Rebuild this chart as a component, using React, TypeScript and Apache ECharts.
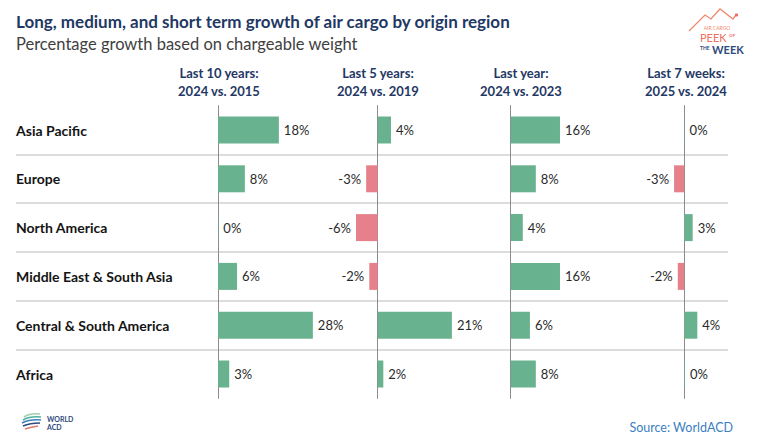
import React, { useEffect, useRef } from 'react';
import * as echarts from 'echarts';

const regions = [
  'Asia Pacific',
  'Europe',
  'North America',
  'Middle East & South Asia',
  'Central & South America',
  'Africa',
];
const headerLine1 = ['Last 10 years:', 'Last 5 years:', 'Last year:', 'Last 7 weeks:'];
const headerLine2 = ['2024 vs. 2015', '2024 vs. 2019', '2024 vs. 2023', '2025 vs. 2024'];
const growth10y = [17.9, 7.9, 0.1, 5.6, 27.9, 3.3];
const growth5y = [3.8, -3.3, -6.2, -2.4, 21.2, 1.6];
const growth1y = [15.9, 8.1, 3.9, 15.9, 6.2, 8.1];
const growth7w = [0.1, -3.3, 2.7, -2.1, 4.2, 0.2];
const mainTitle = 'Long, medium, and short term growth of air cargo by origin region';
const subTitle = 'Percentage growth based on chargeable weight';
const sourceText = 'Source: WorldACD';

const GREEN = '#69b28f';
const RED = '#e6808a';
const FONT = 'Lato';
const NAVY = '#1f3864';

const GRID_TOP = 105.6;
const GRID_H = 292.8;

const panels = [
  { data: growth10y, min: 0, max: 30, left: 218, width: 102, hx: 219 },
  { data: growth5y, min: -8, max: 22, left: 349.7, width: 105, hx: 378 },
  { data: growth1y, min: 0, max: 20, left: 510.7, width: 62, hx: 521 },
  { data: growth7w, min: -5, max: 5, left: 668.8, width: 31, hx: 686 },
];

export default function App() {
  const ref = useRef<HTMLDivElement>(null);
  useEffect(() => {
    if (!ref.current) return;
    const chart = echarts.init(ref.current, null, { renderer: 'svg' });

    const grids: any[] = [];
    const xAxes: any[] = [];
    const yAxes: any[] = [];
    const series: any[] = [];

    // background grid: category labels and row separators
    grids.push({ left: 16, width: 712, top: GRID_TOP, height: GRID_H });
    xAxes.push({ gridIndex: 0, type: 'value', min: 0, max: 1, show: false });
    yAxes.push({
      gridIndex: 0,
      type: 'category',
      inverse: true,
      data: regions,
      axisLine: { show: false },
      axisTick: { show: false },
      axisLabel: {
        inside: true,
        margin: 0,
        fontFamily: FONT,
        fontWeight: 'bold',
        fontSize: 14,
        color: '#141414',
      },
    });
    yAxes.push({
      gridIndex: 0,
      type: 'value',
      min: 0,
      max: 6,
      interval: 1,
      axisLine: { show: false },
      axisTick: { show: false },
      axisLabel: { show: false },
      splitLine: {
        show: true,
        showMinLine: false,
        showMaxLine: false,
        lineStyle: { color: '#d0d0d0', width: 1.5 },
      },
    });

    panels.forEach((p, i) => {
      const gi = i + 1;
      grids.push({ left: p.left, width: p.width, top: GRID_TOP, height: GRID_H });
      xAxes.push({
        gridIndex: gi,
        type: 'value',
        min: p.min,
        max: p.max,
        axisLine: { show: false },
        axisTick: { show: false },
        axisLabel: { show: false },
        splitLine: { show: false },
      });
      yAxes.push({
        gridIndex: gi,
        type: 'category',
        inverse: true,
        data: regions,
        axisLine: { show: true, onZero: true, lineStyle: { color: '#8c8c8c', width: 1 } },
        axisTick: { show: false },
        axisLabel: { show: false },
        splitLine: { show: false },
      });
      series.push({
        type: 'bar',
        xAxisIndex: gi,
        yAxisIndex: gi + 1,
        barWidth: 27,
        data: p.data.map((v) => ({
          value: v,
          itemStyle: { color: v < 0 ? RED : GREEN },
          label: { position: v < 0 ? 'left' : 'right' },
        })),
        label: {
          show: true,
          distance: 5,
          fontFamily: FONT,
          fontSize: 13,
          color: '#2a2a2a',
          formatter: (d: any) => Math.round(d.value) + '%',
        },
      });
    });

    const graphics: any[] = [
      {
        type: 'text',
        x: 16,
        y: 21,
        style: { text: mainTitle, font: `bold 17px ${FONT}`, fill: NAVY, textVerticalAlign: 'middle' },
      },
      {
        type: 'text',
        x: 16,
        y: 44,
        style: { text: subTitle, font: `16.5px ${FONT}`, fill: '#404040', textVerticalAlign: 'middle' },
      },
      {
        type: 'text',
        x: 733,
        y: 427,
        style: { text: sourceText, font: `12.5px ${FONT}`, fill: '#3a7fc1', textAlign: 'right', textVerticalAlign: 'middle' },
      },
      // WorldACD logo
      {
        type: 'text',
        x: 47,
        y: 419,
        style: { text: 'WORLD', font: `bold 7px ${FONT}`, fill: '#2f4a7c', textVerticalAlign: 'middle' },
      },
      {
        type: 'text',
        x: 47,
        y: 427,
        style: { text: 'ACD', font: `bold 7px ${FONT}`, fill: '#2f4a7c', textVerticalAlign: 'middle' },
      },
      { type: 'bezierCurve', shape: { x1: 24, y1: 417, x2: 40, y2: 414, cpx1: 30, cpy1: 413 }, style: { stroke: '#9fd0a8', lineWidth: 1.6, fill: 'none' } },
      { type: 'bezierCurve', shape: { x1: 23, y1: 420, x2: 41, y2: 417, cpx1: 30, cpy1: 416 }, style: { stroke: '#4fb0a0', lineWidth: 1.6, fill: 'none' } },
      { type: 'bezierCurve', shape: { x1: 22, y1: 423, x2: 41, y2: 420, cpx1: 30, cpy1: 419 }, style: { stroke: '#3d7fc0', lineWidth: 1.6, fill: 'none' } },
      { type: 'bezierCurve', shape: { x1: 23, y1: 426, x2: 40, y2: 423, cpx1: 30, cpy1: 423 }, style: { stroke: '#2f4a7c', lineWidth: 1.6, fill: 'none' } },
      { type: 'bezierCurve', shape: { x1: 25, y1: 429, x2: 38, y2: 426, cpx1: 31, cpy1: 427 }, style: { stroke: '#e07a6e', lineWidth: 1.6, fill: 'none' } },
      // Peek of the week logo
      {
        type: 'polyline',
        shape: { points: [[689, 31], [705, 15], [711, 19], [720, 9], [733, 19], [736, 15]] },
        style: { stroke: '#ee8a6e', lineWidth: 1.3, fill: 'none' },
      },
      { type: 'circle', shape: { cx: 736.5, cy: 15, r: 1.6 }, style: { fill: '#ee6a5e' } },
      {
        type: 'text',
        x: 717,
        y: 27.5,
        style: { text: 'AIR CARGO', font: `5px ${FONT}`, fill: '#ee8a6e', textAlign: 'center', textVerticalAlign: 'middle' },
      },
      {
        type: 'text',
        x: 700,
        y: 37,
        style: { text: 'PEEK', font: `11px ${FONT}`, fill: '#ee6f5e', textVerticalAlign: 'middle' },
      },
      {
        type: 'text',
        x: 729,
        y: 35,
        style: { text: 'OF', font: `bold 4.5px ${FONT}`, fill: '#ee6f5e', textVerticalAlign: 'middle' },
      },
      {
        type: 'text',
        x: 700,
        y: 47.5,
        style: { text: 'THE', font: `bold 5px ${FONT}`, fill: '#2f4a7c', textVerticalAlign: 'middle' },
      },
      {
        type: 'text',
        x: 712,
        y: 49,
        style: { text: 'WEEK', font: `bold 11px ${FONT}`, fill: '#2f4a7c', textVerticalAlign: 'middle' },
      },
    ];

    panels.forEach((p, i) => {
      graphics.push({
        type: 'text',
        x: p.hx,
        y: 73,
        style: { text: headerLine1[i], font: `bold 13px ${FONT}`, fill: NAVY, textAlign: 'center', textVerticalAlign: 'middle' },
      });
      graphics.push({
        type: 'text',
        x: p.hx,
        y: 91,
        style: { text: headerLine2[i], font: `bold 13px ${FONT}`, fill: NAVY, textAlign: 'center', textVerticalAlign: 'middle' },
      });
    });

    chart.setOption({
      animation: false,
      backgroundColor: '#ffffff',
      grid: grids,
      xAxis: xAxes,
      yAxis: yAxes,
      series,
      graphic: graphics,
    });
    return () => chart.dispose();
  }, []);

  return (
    <div
      ref={ref}
      style={{ position: 'fixed', left: 0, top: 0, width: 768, height: 446 }}
    />
  );
}
